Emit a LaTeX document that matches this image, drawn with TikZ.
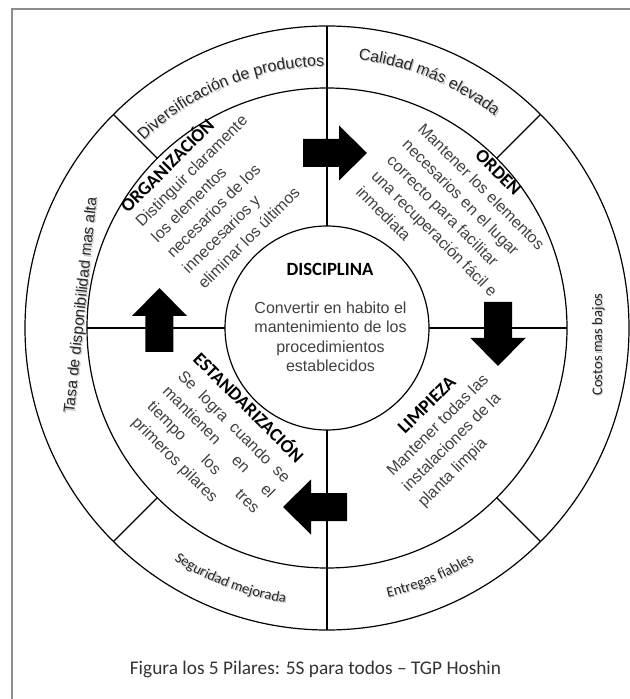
\documentclass[tikz,border=0pt]{standalone}
\usepackage{fontspec}
\setmainfont{Liberation Sans}
\newfontfamily\calibri{Carlito}
\usetikzlibrary{decorations.text}
\definecolor{bodygray}{RGB}{64,64,64}
\definecolor{framegray}{RGB}{140,140,140}
\definecolor{shadowgray}{RGB}{200,200,200}
\newcommand\arialring{\fontsize{12pt}{14pt}\selectfont\color{black!85}}
\newcommand\arialshadow{\fontsize{12pt}{14pt}\selectfont\color{shadowgray}}
\newcommand\calring{\calibri\fontsize{11pt}{13pt}\selectfont\color{black!85}}
\newcommand\calshadow{\calibri\fontsize{11pt}{13pt}\selectfont\color{shadowgray}}
\begin{document}
\begin{tikzpicture}[x=0.75pt,y=0.75pt,
  ring/.style={line width=0.9pt, draw=black},
  bodytext/.style={font=\fontsize{12pt}{14pt}\selectfont, text=bodygray, inner sep=0pt, anchor=base west},
  headtext/.style={font=\calibri\bfseries\fontsize{14pt}{16pt}\selectfont, text=black, inner sep=0pt, anchor=base west},
  centertext/.style={font=\fontsize{12pt}{14pt}\selectfont, text=bodygray, inner sep=0pt, anchor=base},
  sidearial/.style={font=\fontsize{11.7pt}{14pt}\selectfont, inner sep=0pt, anchor=base},
  sidecal/.style={font=\calibri\fontsize{11pt}{13pt}\selectfont, inner sep=0pt, anchor=base},
  blockarrow/.pic={\fill[black] (0,-14) -- (36,-14) -- (36,-27.5) -- (64,0) -- (36,27.5) -- (36,14) -- (0,14) -- cycle;}
]
\useasboundingbox (-327,-371) rectangle (303,328);

% frame
\draw[framegray, line width=0.8pt] (-315,-371) -- (-315,319) -- (303,319);

% rings
\draw[ring] (0,0) circle[radius=302];
\draw[ring] (0,0) circle[radius=240];
\draw[ring] (0,0) circle[radius=102];
\draw[ring] (0,102) -- (0,302);
\draw[ring] (0,-102) -- (0,-302);
\draw[ring] (102,0) -- (240,0);
\draw[ring] (-102,0) -- (-240,0);
\foreach \a in {45,135,225,315} \draw[ring] (\a:240) -- (\a:302);

% arrows
\pic at (-24,175) {blockarrow};
\pic[rotate=-90] at (171,26) {blockarrow};
\pic[rotate=180] at (20,-179) {blockarrow};
\pic[rotate=90] at (-167.5,-24) {blockarrow};

% outer ring texts (curved)
\path[shift={(1.2,-1.2)}, decorate, decoration={text along path, text align=center, text={|\arialshadow|Diversificación de productos}}] (137:262) arc[start angle=137, end angle=88, radius=262];
\path[decorate, decoration={text along path, text align=center, text={|\arialring|Diversificación de productos}}] (137:262) arc[start angle=137, end angle=88, radius=262];

\path[shift={(1.2,-1.2)}, decorate, decoration={text along path, text align=center, text={|\arialshadow|Calidad más elevada}}] (92:270) arc[start angle=92, end angle=43, radius=270];
\path[decorate, decoration={text along path, text align=center, text={|\arialring|Calidad más elevada}}] (92:270) arc[start angle=92, end angle=43, radius=270];

\path[shift={(1.2,-1.2)}, decorate, decoration={text along path, text align=center, text={|\calshadow|Entregas fiables}}] (-90:276) arc[start angle=-90, end angle=-45, radius=276];
\path[decorate, decoration={text along path, text align=center, text={|\calring|Entregas fiables}}] (-90:276) arc[start angle=-90, end angle=-45, radius=276];

\path[shift={(1.2,-1.2)}, decorate, decoration={text along path, text align=center, text={|\calshadow|Seguridad mejorada}}] (-133:278) arc[start angle=-133, end angle=-89, radius=278];
\path[decorate, decoration={text along path, text align=center, text={|\calring|Seguridad mejorada}}] (-133:278) arc[start angle=-133, end angle=-89, radius=278];

% outer ring texts (straight)
\node[sidecal, rotate=90, text=shadowgray] (costoss) at (276.2,-17.7) {Costos mas bajos};
\node[sidecal, rotate=90, text=black!85] (costos) at (275,-16.5) {Costos mas bajos};
\node[sidearial, rotate=84, text=shadowgray] (tasas) at (-240.3,20.8) {Tasa de disponibilidad mas alta};
\node[sidearial, rotate=84, text=black!85] (tasa) at (-241.5,22) {Tasa de disponibilidad mas alta};

% ORGANIZACION
\node[headtext, rotate=45] (orgh) at (-199,114) {ORGANIZACIÓN};
\node[bodytext, rotate=45] (org1) at (-185,100) {Distinguir claramente};
\node[bodytext, rotate=45] (org2) at (-169.4,84.5) {los elementos};
\node[bodytext, rotate=45] (org3) at (-153.8,69) {necesarios de los};
\node[bodytext, rotate=45] (org4) at (-138.2,53.5) {innecesarios y};
\node[bodytext, rotate=45] (org5) at (-122.6,38) {eliminar los últimos};

% ORDEN
\node[headtext, rotate=-45] (ordh) at (147,171.5) {ORDEN};
\node[bodytext, rotate=-45] (ord1) at (90,198) {Mantener los elementos};
\node[bodytext, rotate=-45] (ord2) at (74.5,182.3) {necesarios en el lugar};
\node[bodytext, rotate=-45] (ord3) at (59,166.5) {correcto para facilitar};
\node[bodytext, rotate=-45] (ord4) at (43.5,150.8) {una recuperación fácil e};
\node[bodytext, rotate=-45] (ord5) at (28,135) {inmediata};

% LIMPIEZA
\node[headtext, rotate=45] (limh) at (78,-107) {LIMPIEZA};
\node[bodytext, rotate=45] (lim1) at (66,-149) {Mantener todas las};
\node[bodytext, rotate=45] (lim2) at (81.5,-164.5) {instalaciones de la};
\node[bodytext, rotate=45] (lim3) at (97,-180) {planta limpia};

% ESTANDARIZACION
\node[headtext, rotate=-45] (esth) at (-135,-32) {ESTANDARIZACIÓN};
\node[bodytext, rotate=-45] (est1) at (-150,-49) {\makebox[113.25pt][s]{Se logra cuando se}};
\node[bodytext, rotate=-45] (est2) at (-165.3,-64.3) {\makebox[113.25pt][s]{mantienen en el}};
\node[bodytext, rotate=-45] (est3) at (-180.6,-79.6) {\makebox[113.25pt][s]{tiempo los tres}};
\node[bodytext, rotate=-45] (est4) at (-196,-95) {primeros pilares};

% DISCIPLINA
\node[headtext, anchor=base] (disch) at (3,52) {DISCIPLINA};
\node[centertext] (disc1) at (3.5,14) {Convertir en habito el};
\node[centertext] (disc2) at (3.5,-5) {mantenimiento de los};
\node[centertext] (disc3) at (3.5,-24) {procedimientos};
\node[centertext] (disc4) at (3.5,-43) {establecidos};

% caption
\node[font=\calibri\fontsize{14.5pt}{17pt}\selectfont, text=black!80, inner sep=0pt, anchor=base] (caption) at (-11.5,-346) {Figura los 5 Pilares: 5S para todos – TGP Hoshin};
\end{tikzpicture}
\end{document}
